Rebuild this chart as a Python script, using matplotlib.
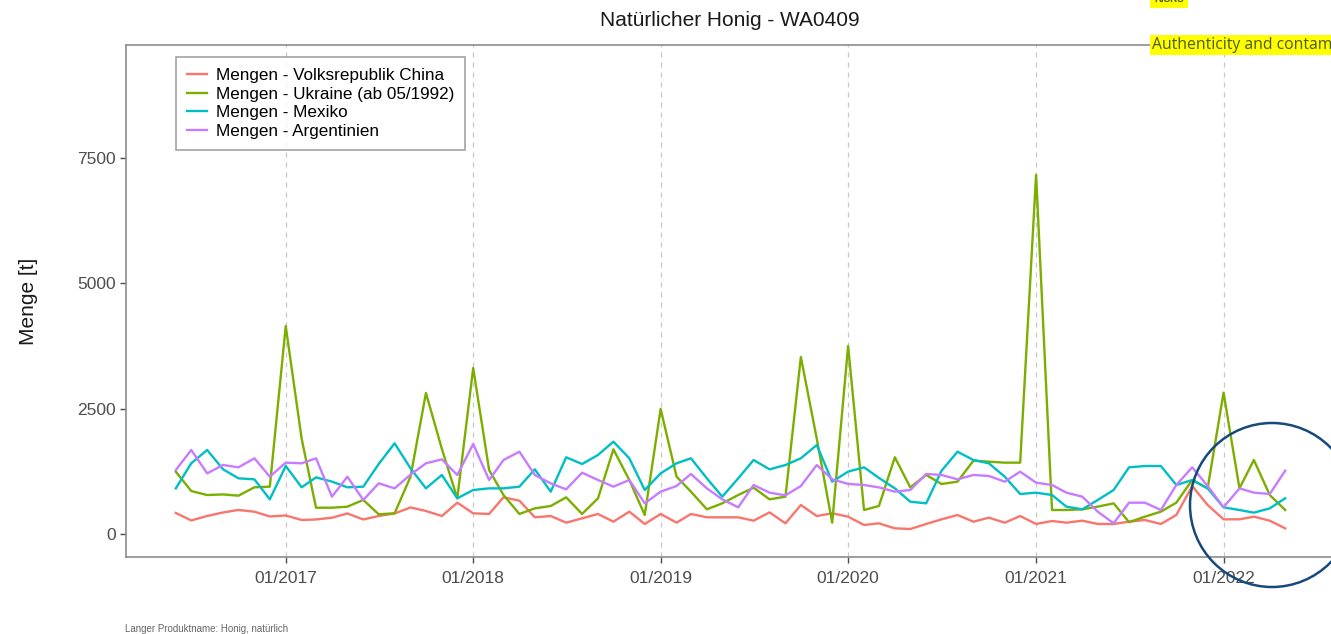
import matplotlib
matplotlib.use("Agg")
import matplotlib.pyplot as plt
import matplotlib.dates as mdates
from matplotlib.patches import Circle
import pandas as pd

plt.rcParams['font.family'] = ['Liberation Sans', 'DejaVu Sans']

# Monatswerte 06/2016 - 05/2022 (Menge in t)
monate = pd.date_range("2016-06-01", "2022-05-01", freq="MS")

china = [420, 270, 360, 430, 480, 445, 350, 370, 280, 290, 325, 410, 290, 360, 410, 530,
         459, 359, 625, 413, 400, 732, 665, 333, 359, 226, 313, 400, 246, 446, 200,
         400, 226, 400, 333, 333, 333, 266, 432, 213, 579, 359, 413, 346, 180, 213,
         113, 100, 200, 293, 379, 246, 326, 226, 359, 200, 260, 226, 266, 200, 200, 246,
         280, 200, 379, 958, 579, 293, 293, 346, 266, 113]

ukraine = [1243, 858, 778, 790, 765, 932, 945, 4150, 1900, 525, 525, 545, 680, 393, 413, 1144,
           2814, 1700, 712, 3313, 1277, 778, 400, 512, 559, 732, 400, 712, 1690, 1078, 380,
           2495, 1144, 845, 493, 612, 778, 925, 692, 745, 3533, 1900, 226, 3752, 479, 559,
           1531, 932, 1178, 998, 1045, 1464, 1444, 1424, 1424, 7166, 479, 479, 492, 546, 612, 236,
           346, 446, 625, 1078, 911, 2821, 911, 1477, 778, 479]

mexiko = [911, 1411, 1677, 1291, 1111, 1091, 692, 1357, 932, 1131, 1045, 932, 945, 1397, 1810, 1310,
          911, 1178, 712, 878, 911, 911, 945, 1291, 845, 1531, 1397, 1577, 1843, 1511, 878,
          1211, 1411, 1511, 1111, 745, 1111, 1477, 1291, 1377, 1511, 1776, 1045, 1245, 1331, 1120,
          911, 645, 612, 1264, 1643, 1477, 1411, 1144, 798, 825, 778, 546, 492, 679, 878, 1331,
          1357, 1357, 978, 1078, 911, 532, 479, 426, 512, 712]

argentinien = [1277, 1677, 1211, 1377, 1331, 1511, 1144, 1424, 1411, 1511, 745, 1144, 679, 1011, 911, 1185,
               1411, 1490, 1178, 1796, 1078, 1477, 1643, 1178, 1011, 891, 1224, 1078, 945, 1078, 612,
               845, 958, 1198, 911, 692, 532, 978, 825, 772, 958, 1377, 1091, 1000, 978, 930,
               845, 878, 1198, 1178, 1091, 1178, 1158, 1045, 1244, 1025, 978, 825, 745, 446, 213, 625,
               625, 479, 978, 1331, 958, 532, 911, 825, 798, 1264]

serien = [
    ("Mengen - Volksrepublik China", china, "#F8766D"),
    ("Mengen - Ukraine (ab 05/1992)", ukraine, "#7CAE00"),
    ("Mengen - Mexiko", mexiko, "#00BFC4"),
    ("Mengen - Argentinien", argentinien, "#C77CFF"),
]

W, H = 1331, 634
fig = plt.figure(figsize=(W / 100, H / 100), dpi=100)
fig.patch.set_facecolor("white")

# Achse in Pixelkoordinaten (rechts leicht ausserhalb des Bildes)
left, right, top, bottom = 126, 1335, 45, 557
ax = fig.add_axes([left / W, 1 - bottom / H, (right - left) / W, (bottom - top) / H])

for name, werte, farbe in serien:
    ax.plot(monate, werte, color=farbe, linewidth=1.7, label=name)

# Achsen
x0 = mdates.date2num(monate[0])
x1 = mdates.date2num(monate[-1])
pad = 97
ax.set_xlim(x0 - pad, x1 + pad)
ax.set_ylim(-459, 9760)

ax.xaxis.set_major_locator(mdates.YearLocator())
ax.xaxis.set_major_formatter(mdates.DateFormatter("%m/%Y"))
ax.set_yticks([0, 2500, 5000, 7500])

ax.tick_params(axis="both", colors="#4d4d4d", labelsize=12.5, length=4, width=1)
ax.tick_params(axis="x", pad=6)

# Gitter
ax.grid(axis="x", color="#c8c8c8", linestyle=(0, (4, 4)), linewidth=0.9)
ax.set_axisbelow(True)

for s in ["left", "bottom", "top"]:
    ax.spines[s].set_color("#8c8c8c")
    ax.spines[s].set_linewidth(1.2)
ax.spines["right"].set_visible(False)

ax.set_ylabel("Menge [t]", fontsize=15, color="#1a1a1a", labelpad=28)
fig.text(730 / W, 1 - 20 / H, "Natürlicher Honig - WA0409", ha="center", va="center",
         fontsize=15, color="#1a1a1a")

# Legende
leg = ax.legend(loc="upper left", bbox_to_anchor=(0.041, 0.977), borderaxespad=0,
                fontsize=12.3, frameon=True, fancybox=False, handlelength=1.2,
                labelspacing=0.22, borderpad=0.65, handletextpad=0.5)
leg.get_frame().set_edgecolor("#8c8c8c")
leg.get_frame().set_linewidth(1.2)

# Fussnote
fig.text(125 / W, 1 - 629 / H, "Langer Produktname: Honig, natürlich", ha="left", va="center",
         fontsize=7, color="#666666")

# Folien-Markierungen
fig.text(1152 / W, 1 - 45 / H, "Authenticity and contamination", ha="left", va="center",
         fontsize=11.3, color="#4f5a14", family=["Open Sans", "DejaVu Sans"],
         bbox=dict(facecolor="#ffff00", edgecolor="none", pad=1.5))
fig.text(1154 / W, 1 + 1 / H, "RISKS", ha="left", va="center", fontsize=7, color="#4f5a14",
         fontweight="bold", bbox=dict(facecolor="#ffff00", edgecolor="none", pad=3))

kreis = Circle((1272 / 100, (H - 505) / 100), 82 / 100, transform=fig.dpi_scale_trans,
               fill=False, edgecolor="#174a7c", linewidth=1.8)
fig.patches.append(kreis)

fig.savefig("out.png", dpi=100)
